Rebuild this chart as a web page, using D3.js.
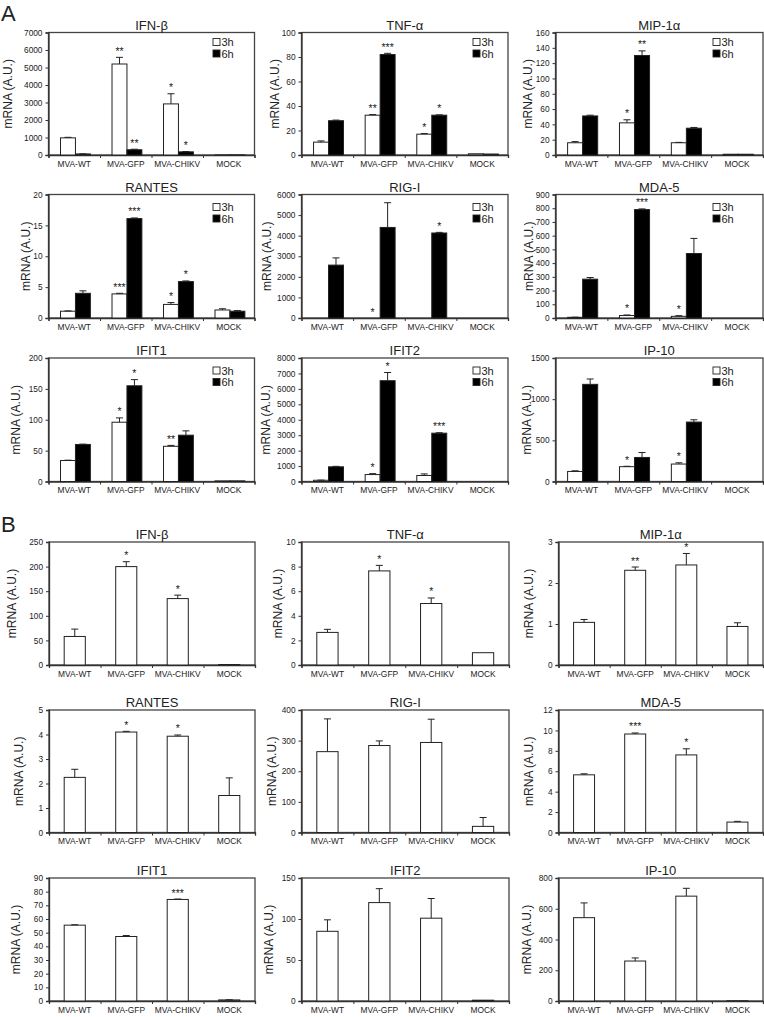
<!DOCTYPE html>
<html><head><meta charset="utf-8">
<script src="https://cdn.jsdelivr.net/npm/d3@7/dist/d3.min.js"></script>
<style>
html,body{margin:0;padding:0;background:#fff;}
svg{display:block;}
text{font-family:"Liberation Sans",Arial,sans-serif;fill:#222;}
</style></head>
<body>
<svg id="chart" width="764" height="1017"></svg>
<script>
// ---------------- DATA ----------------
const categories = ["MVA-WT", "MVA-GFP", "MVA-CHIKV", "MOCK"];
const seriesNames = ["3h", "6h"];
const genes = ["IFN-β", "TNF-α", "MIP-1α", "RANTES", "RIG-I", "MDA-5", "IFIT1", "IFIT2", "IP-10"];
const yLabel = "mRNA (A.U.)";

// Panel A (3h / 6h)
const aMax  = [7000, 100, 160, 20, 6000, 900, 200, 8000, 1500];
const aStep = [1000, 20, 20, 5, 1000, 100, 50, 1000, 500];
const a3h = [
  [980, 5200, 2920, 5],
  [10.5, 32.5, 17, 1],
  [16, 42, 16, 1],
  [1.1, 3.9, 2.2, 1.3],
  [0, 0, 0, 0],
  [5, 18, 12, 0],
  [34, 96, 57, 1],
  [80, 450, 390, 0],
  [122, 180, 212, 0]
];
const a3hErr = [
  [30, 380, 580, 0],
  [1, 0.5, 0.5, 0],
  [1.5, 4, 0.5, 0],
  [0.05, 0.1, 0.3, 0.2],
  [0, 0, 0, 0],
  [1, 4, 5, 0],
  [0.5, 7, 1.5, 0],
  [10, 60, 100, 0],
  [8, 5, 15, 0]
];
const a6h = [
  [60, 300, 180, 5],
  [28, 82, 32.5, 0.8],
  [51, 130, 35, 1],
  [4.0, 16.1, 5.9, 1.1],
  [2570, 4400, 4130, 0],
  [283, 790, 470, 0],
  [60, 155, 75, 1],
  [950, 6530, 3130, 0],
  [1180, 292, 722, 0]
];
const a6hErr = [
  [5, 30, 20, 0],
  [0.5, 1, 0.3, 0],
  [1, 6, 1, 0],
  [0.4, 0.1, 0.1, 0.1],
  [350, 1200, 30, 0],
  [12, 5, 110, 0],
  [0.5, 10, 7, 0],
  [30, 530, 30, 0],
  [65, 60, 28, 0]
];
const a3hStars = [
  ["", "**", "*", ""],
  ["", "**", "*", ""],
  ["", "*", "", ""],
  ["", "***", "*", ""],
  ["", "*", "", ""],
  ["", "*", "*", ""],
  ["", "*", "**", ""],
  ["", "*", "", ""],
  ["", "*", "*", ""]
];
const a6hStars = [
  ["", "**", "*", ""],
  ["", "***", "*", ""],
  ["", "**", "", ""],
  ["", "***", "*", ""],
  ["", "", "*", ""],
  ["", "***", "", ""],
  ["", "*", "", ""],
  ["", "*", "***", ""],
  ["", "", "", ""]
];

// Panel B (single series)
const bMax  = [250, 10, 3, 5, 400, 12, 90, 150, 800];
const bStep = [50, 2, 1, 1, 100, 2, 10, 50, 200];
const bVals = [
  [58, 200, 135, 1],
  [2.65, 7.65, 5.0, 1.0],
  [1.04, 2.31, 2.44, 0.94],
  [2.25, 4.1, 3.93, 1.51],
  [264, 284, 294, 20],
  [5.65, 9.65, 7.6, 1.02],
  [55.5, 47.2, 74.3, 0.8],
  [85, 120, 101, 1],
  [542, 260, 682, 2]
];
const bErr = [
  [15, 10, 7, 0],
  [0.25, 0.45, 0.45, 0],
  [0.07, 0.08, 0.28, 0.09],
  [0.33, 0.03, 0.05, 0.72],
  [107, 15, 76, 29],
  [0.1, 0.1, 0.6, 0.07],
  [0.3, 0.7, 0.3, 0.1],
  [14, 17, 24, 0],
  [96, 20, 51, 0]
];
const bStars = [
  ["", "*", "*", ""],
  ["", "*", "*", ""],
  ["", "**", "*", ""],
  ["", "*", "*", ""],
  ["", "", "", ""],
  ["", "***", "*", ""],
  ["", "", "***", ""],
  ["", "", "", ""],
  ["", "", "", ""]
];

// ---------------- LAYOUT ----------------
const layout = {
  A: { tops: [32.5, 194.5, 358], bottoms: [155, 318, 481.5], lefts: [48.5, 301.5, 555.5], rights: [254.5, 508, 763],
       ylab: [8, 274.5, 528, 25.3, 266.7, 528.5, 15.3, 265.3, 527], legendX: [213, 473, 713], legendDy: [9.5, 12.5, 12.5] },
  B: { tops: [542, 710, 878], bottoms: [665, 832.5, 1001], lefts: [49, 301.5, 558.5], rights: [255, 509, 763],
       ylab: [11.7, 278, 528.5, 18.7, 272, 528.5, 15.3, 268.7, 527] }
};

const svg = d3.select("#chart");
svg.append("rect").attr("width", 764).attr("height", 1017).attr("fill", "#fff");

svg.append("text").attr("x", 1).attr("y", 20.5).attr("font-size", 22).text("A");
svg.append("text").attr("x", 1).attr("y", 531.5).attr("font-size", 22).text("B");

function drawPanel(panel, gi, seriesList) {
  const L = layout[panel];
  const row = Math.floor(gi / 3), col = gi % 3;
  const left = L.lefts[col], right = L.rights[col], top = L.tops[row], bottom = L.bottoms[row];
  const max = panel === "A" ? aMax[gi] : bMax[gi];
  const step = panel === "A" ? aStep[gi] : bStep[gi];
  const g = svg.append("g");

  const y = d3.scaleLinear().domain([0, max]).range([bottom, top]);
  const x = d3.scaleBand().domain(categories).range([left, right]);
  const xb = d3.scaleLinear().domain([0, categories.length]).range([left, right]);

  // frame
  g.append("rect").attr("x", left).attr("y", top).attr("width", right - left).attr("height", bottom - top)
    .attr("fill", "none").attr("stroke", "#444").attr("stroke-width", 1.3);

  // y axis
  const ya = g.append("g").attr("transform", `translate(${left},0)`)
    .call(d3.axisLeft(y).tickValues(d3.range(0, max + step / 2, step)).tickSize(3).tickPadding(3).tickFormat(d3.format("d")));
  ya.select(".domain").attr("stroke", "#333").attr("stroke-width", 1.3);
  ya.selectAll(".tick line").attr("stroke", "#333");
  ya.selectAll(".tick text").attr("font-size", 8.3).attr("fill", "#333").attr("font-family", "Liberation Sans, Arial, sans-serif");

  // x axis boundary ticks
  const xa = g.append("g").attr("transform", `translate(0,${bottom})`)
    .call(d3.axisBottom(xb).tickValues(d3.range(0, categories.length + 1)).tickSize(3).tickFormat(""));
  xa.select(".domain").attr("stroke", "#333").attr("stroke-width", 1.3);
  xa.selectAll(".tick line").attr("stroke", "#333");
  // category labels
  const xl = g.append("g").attr("transform", `translate(0,${bottom})`)
    .call(d3.axisBottom(x).tickSize(0).tickPadding(6));
  xl.select(".domain").remove();
  xl.selectAll(".tick text").attr("font-size", 8.4).attr("fill", "#333").attr("font-family", "Liberation Sans, Arial, sans-serif");

  // title
  g.append("text").attr("x", (left + right) / 2).attr("y", top - 3).attr("text-anchor", "middle")
    .attr("font-size", 13).text(genes[gi]);
  // y label
  g.append("text").attr("transform", `translate(${L.ylab[gi] + 4.3},${(top + bottom) / 2}) rotate(-90)`)
    .attr("text-anchor", "middle").attr("font-size", 12).text(yLabel);

  // bars
  const n = seriesList.length;
  const bw = n === 2 ? x.bandwidth() * 0.29 : x.bandwidth() * 0.41;
  const off = n === 2 ? 1.2 : 0;
  seriesList.forEach((s, si) => {
    categories.forEach((c, ci) => {
      const v = s.vals[ci], e = s.errs[ci];
      const cx = x(c) + x.bandwidth() / 2 + off + (n === 2 ? (si - 0.5) * bw : 0);
      const x0 = cx - bw / 2;
      if (v > 0) {
        g.append("rect").attr("x", x0).attr("y", y(v)).attr("width", bw).attr("height", y(0) - y(v))
          .attr("fill", s.fill).attr("stroke", "#222").attr("stroke-width", 1);
      }
      if (e > 0) {
        g.append("line").attr("x1", cx).attr("x2", cx).attr("y1", y(v)).attr("y2", y(v + e))
          .attr("stroke", "#222").attr("stroke-width", 1);
        g.append("line").attr("x1", cx - 3.5).attr("x2", cx + 3.5).attr("y1", y(v + e)).attr("y2", y(v + e))
          .attr("stroke", "#222").attr("stroke-width", 1);
      }
      const st = s.stars[ci];
      if (st) {
        g.append("text").attr("x", cx).attr("y", y(v + e) - 2.5).attr("text-anchor", "middle")
          .attr("font-size", 10.5).style("fill", "#222").text(st);
      }
    });
  });

  // legend
  if (panel === "A") {
    const lx = L.legendX[col];
    const ly = top + L.legendDy[row];
    seriesList.forEach((s, si) => {
      const cy = ly + si * 11.5;
      g.append("rect").attr("x", lx).attr("y", cy - 3.5).attr("width", 7).attr("height", 7)
        .attr("fill", s.fill).attr("stroke", "#222").attr("stroke-width", 0.9);
      g.append("text").attr("x", lx + 8.5).attr("y", cy + 4).attr("font-size", 11).text(s.name);
    });
  }
}

genes.forEach((gname, gi) => {
  drawPanel("A", gi, [
    { name: seriesNames[0], vals: a3h[gi], errs: a3hErr[gi], stars: a3hStars[gi], fill: "#fff" },
    { name: seriesNames[1], vals: a6h[gi], errs: a6hErr[gi], stars: a6hStars[gi], fill: "#000" }
  ]);
  drawPanel("B", gi, [
    { name: "", vals: bVals[gi], errs: bErr[gi], stars: bStars[gi], fill: "#fff" }
  ]);
});
</script>
</body></html>
